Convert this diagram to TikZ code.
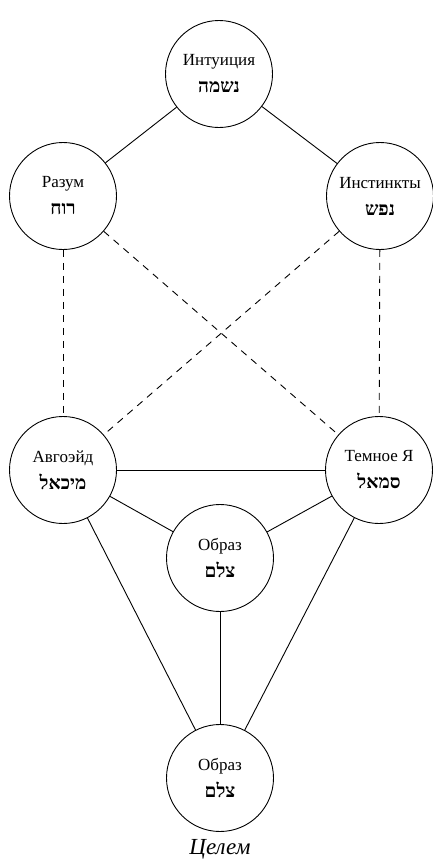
\documentclass[tikz,border=0pt]{standalone}
\usepackage{fontspec}
\setmainfont{Liberation Serif}
\newfontfamily\hebfont[Script=Hebrew]{Liberation Serif}
\TeXXeTstate=1
\newcommand{\heb}[1]{{\hebfont\bfseries\fontsize{19}{27}\selectfont\beginR #1\endR}}
\begin{document}
\begin{tikzpicture}[x=1pt,y=-1pt,
  sefira/.style={circle,draw,line width=0.9pt,minimum size=107pt,inner sep=0pt,align=center,
    font=\fontsize{17}{27}\selectfont},
  link/.style={line width=0.9pt},
  dlink/.style={line width=0.9pt,dash pattern=on 7pt off 6pt}]
\useasboundingbox (0,0) rectangle (433,865);
\node[sefira] (top) at (219,74) {Интуиция\\\heb{נשמה}};
\node[sefira] (raz) at (63,196) {Разум\\\heb{רוח}};
\node[sefira] (ins) at (380,196) {Инстинкты\\\heb{נפש}};
\node[sefira] (avg) at (63,470) {Авгоэйд\\\heb{מיכאל}};
\node[sefira] (tem) at (379,470) {Темное Я\\\heb{סמאל}};
\node[sefira] (mid) at (220,558) {Образ\\\heb{צלם}};
\node[sefira] (bot) at (220,778) {Образ\\\heb{צלם}};
\node[font=\fontsize{23}{26}\selectfont\itshape] (cap) at (220,849) {Целем};
\draw[link] (top) -- (raz);
\draw[link] (top) -- (ins);
\draw[dlink] (raz) -- (avg);
\draw[dlink] (ins) -- (tem);
\draw[dlink] (raz) -- (tem);
\draw[dlink] (ins) -- (avg);
\draw[link] (avg) -- (tem);
\draw[link] (avg) -- (mid);
\draw[link] (tem) -- (mid);
\draw[link] (mid) -- (bot);
\draw[link] (avg) -- (bot);
\draw[link] (tem) -- (bot);
\end{tikzpicture}
\end{document}
